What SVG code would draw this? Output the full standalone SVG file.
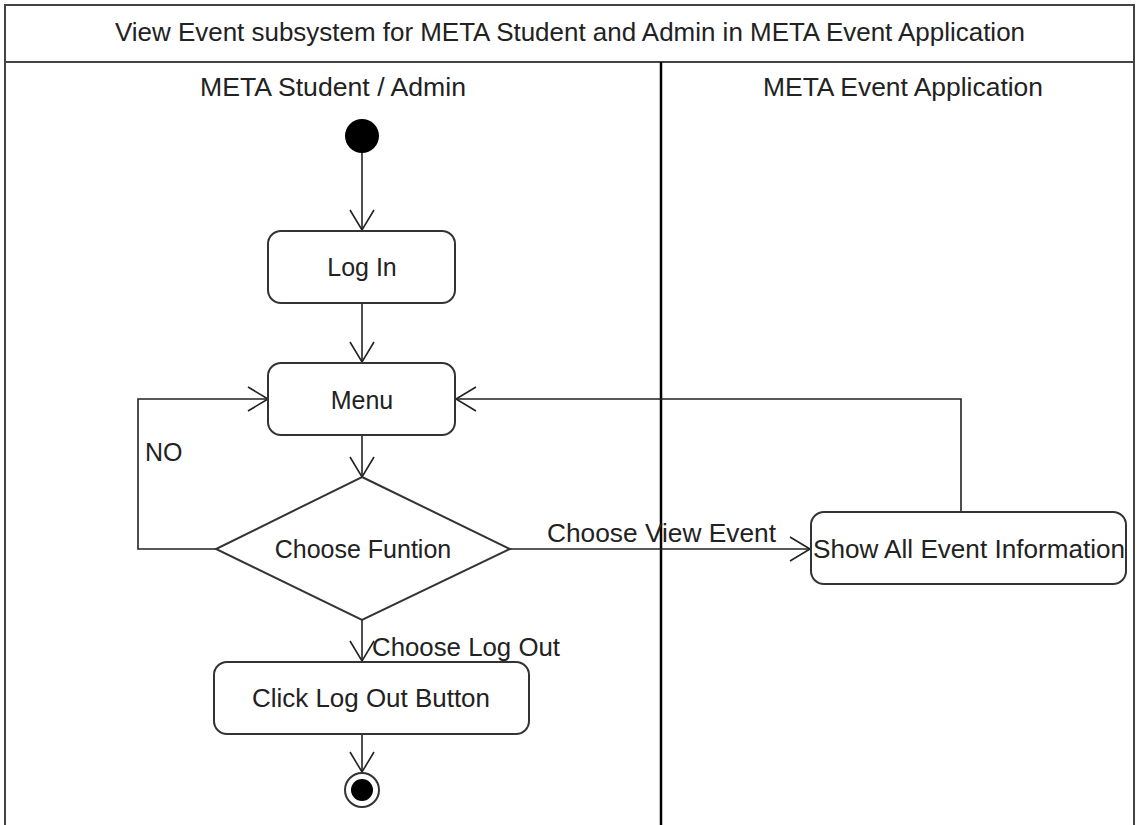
<svg xmlns="http://www.w3.org/2000/svg" width="1139" height="825" viewBox="0 0 1139 825">
<defs>
<marker id="open" viewBox="0 0 24 28" refX="22" refY="14" markerWidth="24" markerHeight="28" markerUnits="userSpaceOnUse" orient="auto">
<path d="M2,2 L22,14 L2,26" fill="none" stroke="#222" stroke-width="1.6"/>
</marker>
<style>
.t{font-family:"Liberation Sans",Arial,sans-serif;font-size:25px;fill:#222}
.m{text-anchor:middle}
.box{fill:#fff;stroke:#333;stroke-width:2}
.ln{fill:none;stroke:#222;stroke-width:1.6}
</style>
</defs>
<rect width="1139" height="825" fill="#fff"/>
<g id="frame">
<rect x="5" y="5" width="1129" height="830" fill="none" stroke="#444" stroke-width="2"/>
<line x1="5" y1="62" x2="1134" y2="62" stroke="#444" stroke-width="2"/>
<line x1="661" y1="62" x2="661" y2="825" stroke="#000" stroke-width="2.5"/>
<text class="t m" x="570" y="41" textLength="910" lengthAdjust="spacingAndGlyphs">View Event subsystem for META Student and Admin in META Event Application</text>
<text class="t m" x="333" y="96" textLength="266" lengthAdjust="spacingAndGlyphs">META Student / Admin</text>
<text class="t m" x="903" y="96" textLength="280" lengthAdjust="spacingAndGlyphs">META Event Application</text>
</g>
<g id="connectors">
<line class="ln" x1="362" y1="150" x2="362" y2="230" marker-end="url(#open)"/>
<line class="ln" x1="362" y1="303" x2="362" y2="362" marker-end="url(#open)"/>
<line class="ln" x1="362" y1="435" x2="362" y2="477" marker-end="url(#open)"/>
<polyline class="ln" points="216,549 138,549 138,399 268,399" marker-end="url(#open)"/>
<text id="lbl-no" class="t" x="145" y="461">NO</text>
<line class="ln" x1="510" y1="549" x2="810" y2="549" marker-end="url(#open)"/>
<text class="t" x="547" y="542" textLength="229" lengthAdjust="spacingAndGlyphs">Choose View Event</text>
<polyline class="ln" points="961,512 961,399 456,399" marker-end="url(#open)"/>
<line class="ln" x1="362" y1="620" x2="362" y2="661" marker-end="url(#open)"/>
<text class="t" x="372" y="656" textLength="188" lengthAdjust="spacingAndGlyphs">Choose Log Out</text>
<line class="ln" x1="362" y1="734" x2="362" y2="772" marker-end="url(#open)"/>
</g>
<g id="start"><circle cx="362" cy="136" r="17" fill="#000"/></g>
<g id="login"><rect class="box" x="268" y="231" width="187" height="72" rx="13"/><text class="t m" x="362" y="276">Log In</text></g>
<g id="menu"><rect class="box" x="268" y="363" width="187" height="72" rx="13"/><text class="t m" x="362" y="409">Menu</text></g>
<g id="choose"><polygon class="box" points="362,477 510,549 362,620 216,549"/><text class="t m" x="363" y="558">Choose Funtion</text></g>
<g id="showall"><rect class="box" x="811" y="512" width="315" height="72" rx="13"/><text class="t m" x="969" y="558" textLength="312" lengthAdjust="spacingAndGlyphs">Show All Event Information</text></g>
<g id="logout"><rect class="box" x="214" y="662" width="315" height="72" rx="13"/><text class="t m" x="371" y="707" textLength="238" lengthAdjust="spacingAndGlyphs">Click Log Out Button</text></g>
<g id="end"><circle cx="362" cy="790" r="17" fill="#fff" stroke="#333" stroke-width="2"/><circle cx="362" cy="790" r="11" fill="#000"/></g>
</svg>
